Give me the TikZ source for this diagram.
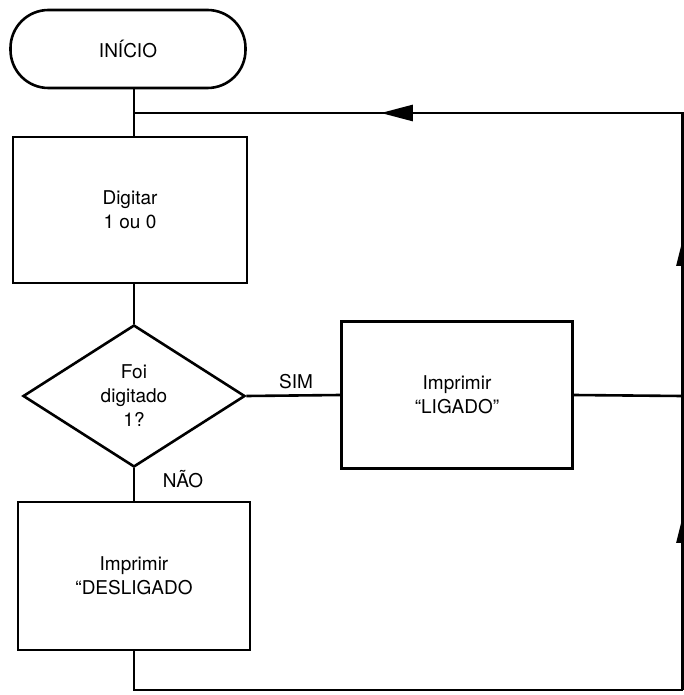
\documentclass[tikz,border=0pt]{standalone}
\usepackage{fontspec}
\newfontfamily\hv{TeX Gyre Heros}
\usetikzlibrary{shapes.geometric,arrows.meta,decorations.markings}
\begin{document}
\begin{tikzpicture}[x=1pt,y=-1pt,
  every node/.style={font=\hv\fontsize{19}{24}\selectfont, align=center, inner sep=0pt},
  box/.style={draw, line width=2.6pt, rectangle},
  term/.style={draw, line width=2.6pt, rectangle, rounded corners=38pt, minimum width=235pt, minimum height=78pt},
  dec/.style={draw, line width=2.6pt, diamond, aspect=1.56, minimum width=222pt, minimum height=142pt},
  conn/.style={line width=2.6pt},
  lbl/.style={font=\hv\fontsize{19}{22}\selectfont}]
\useasboundingbox (0,0) rectangle (684,695);
\clip (0,0) rectangle (684,695);
\fill[white] (0,0) rectangle (684,695);

\node[term] (start) at (128,49) {INÍCIO};
\node[box, minimum width=234pt, minimum height=146pt] (d1) at (130,210) {Digitar\\1 ou 0};
\node[dec] (q) at (134,396) {Foi\\digitado\\1?};
\node[box, minimum width=231pt, minimum height=147pt] (lig) at (457,395) {Imprimir\\“LIGADO”};
\node[box, minimum width=232pt, minimum height=148pt] (des) at (134,576) {Imprimir\\“DESLIGADO};

\coordinate (j1) at (134,113);
\coordinate (rtop) at (682.5,113);
\coordinate (rbot) at (682.5,690);
\coordinate (bl) at (134,690);
\coordinate (rmid) at (682.5,396);

\node[lbl] (sim) at (296,382) {SIM};
\node[lbl] (nao) at (183,479) {NÃO};

\draw[conn] (j1 |- start.south) -- (j1 |- d1.north);
\draw[conn] (j1 |- d1.south) -- (q.north);
\draw[conn] (q.east) -- (lig.west);
\draw[conn] (q.south) -- (des.north -| q.south);
\draw[conn] (lig.east) -- (rmid);
\draw[conn] (des.south -| bl) -- (bl) -- (rbot);
\draw[conn, postaction={decorate, decoration={markings,
   mark=at position 0.30 with {\arrow{Triangle[length=26pt,width=12pt]}},
   mark=at position 0.78 with {\arrow{Triangle[length=26pt,width=12pt]}}}}]
   (rbot) -- (rtop);
\draw[conn, line cap=rect, postaction={decorate, decoration={markings,
   mark=at position 0.55 with {\arrow{Triangle[length=32pt,width=16pt]}}}}]
   (rtop) -- (j1);
\end{tikzpicture}
\end{document}
